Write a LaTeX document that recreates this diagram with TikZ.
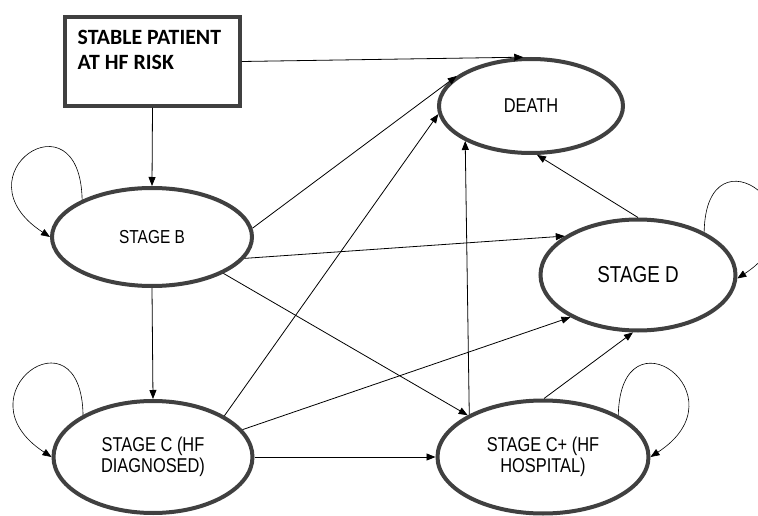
\documentclass[tikz,border=0pt]{standalone}
\usepackage{fontspec}
\usetikzlibrary{arrows.meta,shapes.geometric}
\newfontfamily\narrowfont[FakeStretch=0.82]{Liberation Sans}
\newfontfamily\boxfont{Carlito}
\definecolor{bordergray}{HTML}{404040}
\tikzset{
  state/.style={ellipse, draw=bordergray, line width=4pt, fill=white, inner sep=0pt, align=center, font=\narrowfont},
  conn/.style={draw=black, line width=0.8pt, -{Triangle[length=9pt,width=7pt]}},
  loopline/.style={draw=black, line width=0.6pt, -{Triangle[length=9pt,width=7pt]}},
}
\begin{document}
\begin{tikzpicture}[x=1pt,y=-1pt]
\useasboundingbox (0,0) rectangle (758,516);
\clip (0,0) rectangle (758,516);
\fill[white] (0,0) rectangle (758,516);

% start box
\node[draw=bordergray, line width=3.5pt, rectangle, minimum width=175pt, minimum height=89pt, inner sep=0pt] (stable) at (152.5,61.5) {};
\node[anchor=north west, inner sep=0pt, align=left, font=\boxfont\bfseries\fontsize{21.8}{25}\selectfont] (stabletext) at (77.5,30) {STABLE PATIENT\\AT HF RISK};

% states
\node[state, minimum width=184pt, minimum height=94pt, font=\narrowfont\fontsize{20}{22}\selectfont] (death) at (531,106) {DEATH};
\node[state, minimum width=200pt, minimum height=98pt, font=\narrowfont\fontsize{18.8}{22}\selectfont] (B) at (152,237) {STAGE B};
\node[state, minimum width=195pt, minimum height=111pt, font=\narrowfont\fontsize{23}{26}\selectfont] (D) at (638,275) {STAGE D};
\node[state, minimum width=199pt, minimum height=112pt, font=\narrowfont\fontsize{20}{21.5}\selectfont] (C) at (153,457) {STAGE C (HF\\DIAGNOSED)};
\node[state, minimum width=211pt, minimum height=113pt, font=\narrowfont\fontsize{20}{21.5}\selectfont] (Cp) at (543,457) {STAGE C+ (HF\\HOSPITAL)};

% connectors
\draw[conn] (stable.east) -- (death.99);
\draw[conn] (stable.south) -- (B.north);
\draw[conn] (B.5) -- (death.158);
\draw[conn] (B.-13) -- (D.152);
\draw[conn] (B.-27) -- (Cp.151);
\draw[conn] (B.south) -- (C.north);
\draw[conn] (C.30) -- (death.185);
\draw[conn] (C.17) -- (D.212);
\draw[conn] (C.east) -- (Cp.west);
\draw[conn] (Cp.150) -- (death.208);
\draw[conn] (Cp.89) -- (D.265);
\draw[conn] (D.north) -- (death.277);

% self loops
\draw[loopline] (B.152) .. controls +(-2,-110) and +(-95,-62) .. (B.180);
\draw[loopline] (C.149) .. controls +(-2,-110) and +(-95,-62) .. (C.180);
\draw[loopline] (Cp.29) .. controls +(2,-110) and +(95,-62) .. (Cp.0);
\draw[loopline] (D.33) .. controls +(2,-110) and +(95,-62) .. (D.-2);
\end{tikzpicture}
\end{document}
